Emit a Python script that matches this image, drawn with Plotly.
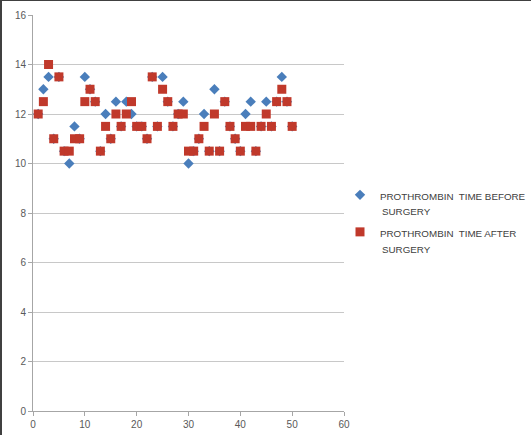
import plotly.graph_objects as go

patients = list(range(1, 51))
after = [12, 12.5, 14, 11, 13.5, 10.5, 10.5, 11, 11, 12.5,
         13, 12.5, 10.5, 11.5, 11, 12, 11.5, 12, 12.5, 11.5,
         11.5, 11, 13.5, 11.5, 13, 12.5, 11.5, 12, 12, 10.5,
         10.5, 11, 11.5, 10.5, 12, 10.5, 12.5, 11.5, 11, 10.5,
         11.5, 11.5, 10.5, 11.5, 12, 11.5, 12.5, 13, 12.5, 11.5]
before_visible = {2: 13, 3: 13.5, 7: 10, 8: 11.5, 10: 13.5, 14: 12, 16: 12.5,
                  18: 12.5, 19: 12, 25: 13.5, 29: 12.5, 30: 10, 33: 12, 35: 13,
                  41: 12, 42: 12.5, 45: 12.5, 48: 13.5}
before = [before_visible.get(p, a) for p, a in zip(patients, after)]

x_ticks = [0, 10, 20, 30, 40, 50, 60]
y_ticks = [0, 2, 4, 6, 8, 10, 12, 14, 16]
series_names = ["PROTHROMBIN  TIME BEFORE", "PROTHROMBIN  TIME AFTER"]
second_line = "SURGERY"

W, H = 531, 435
L, R, T, B = 33, 187, 15, 24
pw = W - L - R
ph = H - T - B

def px_x(p):
    return (p - L) / pw

def px_y(p):
    return 1 - (p - T) / ph

fig = go.Figure()
fig.add_trace(go.Scatter(
    x=patients, y=before, mode="markers", name=series_names[0], legendgroup="a",
    marker=dict(symbol="diamond", size=8, color="#4A7EBB"),
))
fig.add_trace(go.Scatter(
    x=patients, y=after, mode="markers", name=series_names[1], legendgroup="b",
    marker=dict(symbol="square", size=9, color="#C0392B"),
))

legend_font = dict(family="Liberation Sans", size=9.8, color="#404040")
text_left = 380

fig.update_layout(
    width=W, height=H,
    margin=dict(l=L, r=R, t=T, b=B, autoexpand=False),
    paper_bgcolor="white", plot_bgcolor="white",
    font=dict(family="Liberation Sans", size=10, color="#595959"),
    xaxis=dict(range=[0, 60], tickvals=x_ticks, showgrid=False, zeroline=False,
               showline=True, linecolor="#A6A6A6", linewidth=1, automargin=False,
               ticks="outside", ticklen=4, tickcolor="#A6A6A6",
               tickfont=dict(size=10, color="#595959")),
    yaxis=dict(range=[0, 16], tickvals=y_ticks, showgrid=True, gridcolor="#C8C8C8",
               zeroline=False, showline=True, linecolor="#A6A6A6", linewidth=1,
               automargin=False, ticks="outside", ticklen=4, tickcolor="#A6A6A6",
               tickfont=dict(size=10, color="#595959")),
    legend=dict(x=px_x(text_left - 40), y=px_y(182), xanchor="left", yanchor="top",
                font=legend_font, itemwidth=30, valign="top",
                bgcolor="rgba(0,0,0,0)", tracegroupgap=18, borderwidth=0),
    annotations=[
        dict(xref="paper", yref="paper", x=px_x(text_left), y=px_y(212),
             text=second_line, showarrow=False, xanchor="left", yanchor="middle",
             font=legend_font),
        dict(xref="paper", yref="paper", x=px_x(text_left), y=px_y(249),
             text=second_line, showarrow=False, xanchor="left", yanchor="middle",
             font=legend_font),
    ],
    shapes=[
        dict(type="line", xref="paper", yref="paper",
             x0=px_x(1), x1=px_x(1), y0=px_y(0), y1=px_y(H),
             line=dict(color="#404040", width=2)),
        dict(type="line", xref="paper", yref="paper",
             x0=px_x(0), x1=px_x(W), y0=px_y(0.5), y1=px_y(0.5),
             line=dict(color="#404040", width=1)),
    ],
)

fig.write_html("out.html", config={"displayModeBar": False},
               post_script="document.body.style.margin='0';")
